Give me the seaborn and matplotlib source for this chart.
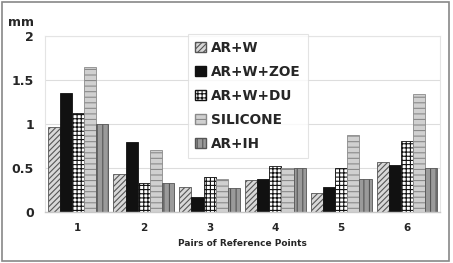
import pandas as pd
import matplotlib.pyplot as plt
import seaborn as sns
from matplotlib.patches import Rectangle

# Values (mm)
pairs = ['1', '2', '3', '4', '5', '6']
series = ['AR+W', 'AR+W+ZOE', 'AR+W+DU', 'SILICONE', 'AR+IH']
ar_w = [0.97, 0.43, 0.28, 0.36, 0.22, 0.57]
ar_w_zoe = [1.35, 0.79, 0.17, 0.38, 0.28, 0.53]
ar_w_du = [1.12, 0.33, 0.40, 0.52, 0.50, 0.81]
silicone = [1.65, 0.70, 0.37, 0.50, 0.875, 1.34]
ar_ih = [1.00, 0.33, 0.27, 0.50, 0.37, 0.50]

df = pd.DataFrame({
    'pair': pairs * 5,
    'series': [s for s in series for _ in pairs],
    'value': ar_w + ar_w_zoe + ar_w_du + silicone + ar_ih,
})

sns.set_style('white')
plt.rcParams['font.family'] = ['DejaVu Sans']
plt.rcParams['font.weight'] = 'bold'
plt.rcParams['hatch.linewidth'] = 0.8

fig = plt.figure(figsize=(4.53, 2.63), dpi=100)
ax = fig.add_axes([0.0993, 0.194, 0.872, 0.669])

sns.barplot(data=df, x='pair', y='value', hue='series', order=pairs,
            hue_order=series, width=0.92, gap=0, ax=ax, legend=True)

# fill / hatch style per series
styles = [
    ('#d8d8d8', '#555555', '//////'),
    ('#111111', '#111111', None),
    ('#ffffff', '#111111', '++++'),
    ('#d0d0d0', '#8a8a8a', '---'),
    ('#9a9a9a', '#555555', '|||'),
]
for cont, (fc, ec, h) in zip(ax.containers, styles):
    for bar in cont:
        bar.set_facecolor(fc)
        bar.set_edgecolor(ec)
        bar.set_hatch(h)
        bar.set_linewidth(0.6)

ax.set_ylim(0, 2)
ax.set_yticks([0, 0.5, 1, 1.5, 2])
ax.set_yticklabels(['0', '0.5', '1', '1.5', '2'], fontsize=9, fontweight='bold')
ax.set_xticks(range(6))
ax.set_xticklabels(pairs, fontsize=7.5, fontweight='bold')
ax.tick_params(axis='both', length=0, pad=8)
ax.set_xlabel('Pairs of Reference Points', fontsize=6.5, fontweight='bold',
              labelpad=4)
ax.set_ylabel('')
ax.yaxis.grid(True, color='#dddddd', linewidth=0.8)
ax.set_axisbelow(True)
for side in ['top', 'right', 'left']:
    ax.spines[side].set_color('#e4e4e4')
    ax.spines[side].set_linewidth(0.8)
ax.spines['bottom'].set_color('#c8c8c8')
ax.spines['bottom'].set_linewidth(1.0)

fig.text(0.018, 0.9, 'mm', fontsize=9, fontweight='bold')

handles, labels = ax.get_legend_handles_labels()
for hd, (fc, ec, h) in zip(handles, styles):
    hd.set_facecolor(fc)
    hd.set_edgecolor(ec)
    hd.set_hatch(h)
leg = ax.legend(handles, labels, loc='upper left', bbox_to_anchor=(0.362, 1.012),
                prop={'size': 9.8, 'weight': 'bold'}, frameon=True, fancybox=False,
                handlelength=0.8, handleheight=0.8, handletextpad=0.4,
                labelspacing=0.74, borderpad=0.5, borderaxespad=0)
leg.get_frame().set_edgecolor('#dddddd')
leg.get_frame().set_linewidth(0.8)

# outer frame around the whole figure
fig.patches.append(Rectangle((0.004, 0.008), 0.988, 0.984, transform=fig.transFigure,
                             fill=False, edgecolor='#888888', linewidth=1.2))

fig.savefig('out.png', dpi=100)
